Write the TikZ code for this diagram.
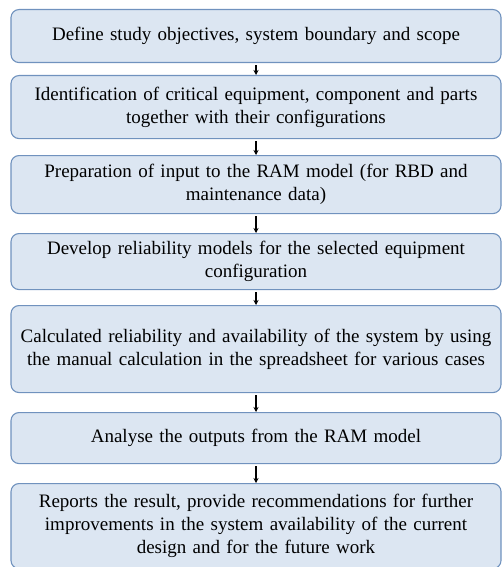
\documentclass[tikz,border=0pt]{standalone}
\usepackage{fontspec}
\setmainfont{Liberation Serif}
\usetikzlibrary{arrows.meta}
\definecolor{boxfill}{RGB}{220,230,242}
\definecolor{boxline}{RGB}{112,146,190}
\begin{document}
\begin{tikzpicture}[x=1pt,y=1pt,
  stepbox/.style={draw=boxline, line width=1.1pt, fill=boxfill, rounded corners=8pt,
    minimum width=490pt, text width=484pt, align=center, anchor=north,
    inner sep=0pt, font=\fontsize{19}{23}\selectfont},
  flow/.style={line width=1.2pt, -{Stealth[length=5pt,width=5pt]}, shorten <=2pt}]
\useasboundingbox (0,0) rectangle (502,-567);
\node[stepbox, minimum height=53pt] (b1) at (256,-9) {Define study objectives, system boundary and scope};
\node[stepbox, minimum height=63pt] (b2) at (256,-75) {Identification of critical equipment, component and parts\\together with their configurations};
\node[stepbox, minimum height=58pt] (b3) at (256,-155) {Preparation of input to the RAM model (for RBD and\\maintenance data)};
\node[stepbox, minimum height=56pt] (b4) at (256,-233) {Develop reliability models for the selected equipment\\configuration};
\node[stepbox, minimum height=87pt] (b5) at (256,-305) {Calculated reliability and availability of the system by using\\the manual calculation in the spreadsheet for various cases};
\node[stepbox, minimum height=51pt] (b6) at (256,-412) {Analyse the outputs from the RAM model};
\node[stepbox, minimum height=85pt] (b7) at (256,-483) {Reports the result, provide recommendations for further\\improvements in the system availability of the current\\design and for the future work};
\draw[flow] (b1) -- (b2);
\draw[flow] (b2) -- (b3);
\draw[flow] (b3) -- (b4);
\draw[flow] (b4) -- (b5);
\draw[flow] (b5) -- (b6);
\draw[flow] (b6) -- (b7);
\end{tikzpicture}
\end{document}
